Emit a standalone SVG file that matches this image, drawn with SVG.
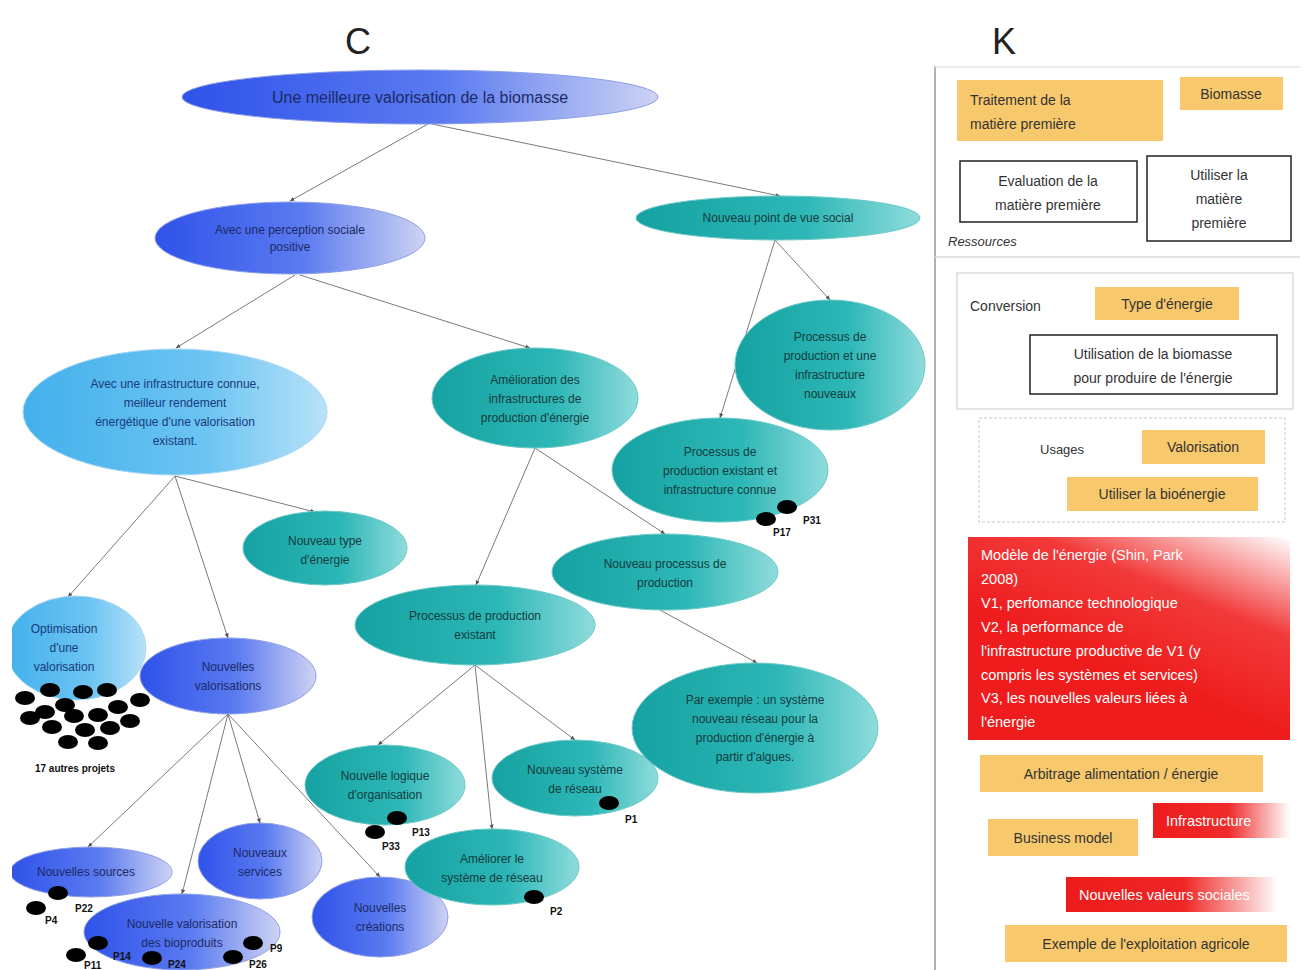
<svg xmlns="http://www.w3.org/2000/svg" width="1304" height="970" viewBox="0 0 1304 970">
<defs>
<linearGradient id="gBlue" x1="0" y1="0" x2="1" y2="0">
<stop offset="0" stop-color="#2f52ea"/><stop offset="0.55" stop-color="#5b7bf0"/><stop offset="1" stop-color="#cdd3f3"/>
</linearGradient>
<linearGradient id="gTeal" x1="0" y1="0" x2="1" y2="0">
<stop offset="0" stop-color="#16a2a2"/><stop offset="0.6" stop-color="#2db7b6"/><stop offset="1" stop-color="#8fdcdc"/>
</linearGradient>
<linearGradient id="gLight" x1="0" y1="0" x2="1" y2="0">
<stop offset="0" stop-color="#43b0ec"/><stop offset="0.6" stop-color="#6cc4f2"/><stop offset="1" stop-color="#b8e2f8"/>
</linearGradient>
<linearGradient id="gRed" x1="0.55" y1="0.7" x2="1" y2="0">
<stop offset="0" stop-color="#ee1c1c"/><stop offset="0.5" stop-color="#f23a3a"/><stop offset="1" stop-color="#ffffff"/>
</linearGradient>
<linearGradient id="gRedH" x1="0" y1="0" x2="1" y2="0">
<stop offset="0" stop-color="#ee1c1c"/><stop offset="0.55" stop-color="#ef2a2a"/><stop offset="1" stop-color="#ffffff"/>
</linearGradient>
<linearGradient id="gRedH2" x1="0" y1="0" x2="1" y2="0">
<stop offset="0" stop-color="#ee1c1c"/><stop offset="0.5" stop-color="#ef2626"/><stop offset="0.9" stop-color="#ffffff"/>
</linearGradient>
<marker id="arr" viewBox="0 0 10 10" refX="9" refY="5" markerWidth="5" markerHeight="5" orient="auto">
<path d="M0,1 L10,5 L0,9 z" fill="#555"/>
</marker>
<clipPath id="leftClip"><rect x="12" y="0" width="1292" height="970"/></clipPath>
</defs>
<style>
.n text{font-family:"Liberation Sans",Arial,sans-serif;font-size:12px;text-anchor:middle}
.b ellipse{fill:url(#gBlue);stroke:#8d9fe8;stroke-width:1}
.t ellipse{fill:url(#gTeal);stroke:#6cc8c8;stroke-width:1}
.l ellipse{fill:url(#gLight);stroke:#a9d8f2;stroke-width:1}
.b text{fill:#1b2a66}
.t text{fill:#123c3e}
.l text{fill:#173a7a}
.c line{stroke:#7a7a7a;stroke-width:1;marker-end:url(#arr)}
.dot{fill:#000}
.pl{font-family:"Liberation Sans",Arial,sans-serif;font-size:10px;font-weight:bold;fill:#111}
.k{font-family:"Liberation Sans",Arial,sans-serif;font-size:14px;fill:#333}
.ob{fill:#f8c96c}
.bx{fill:#fff;stroke:#222;stroke-width:1.5}
.sec{fill:none;stroke:#dcdcdc;stroke-width:1.5}
.wt{font-family:"Liberation Sans",Arial,sans-serif;font-size:14.5px;fill:#fff}
.hd{font-family:"Liberation Sans",Arial,sans-serif;font-size:36px;fill:#222;text-anchor:middle}
</style>
<rect width="1304" height="970" fill="#fff"/>
<text class="hd" x="358" y="54">C</text>
<text class="hd" x="1004" y="54">K</text>

<g id="connectors" class="c">
<line x1="428" y1="124" x2="290" y2="201"/>
<line x1="432" y1="124" x2="780" y2="196"/>
<line x1="295" y1="275" x2="176" y2="348"/>
<line x1="300" y1="275" x2="530" y2="348"/>
<line x1="775" y1="240" x2="830" y2="300"/>
<line x1="775" y1="240" x2="720" y2="418"/>
<line x1="175" y1="476" x2="68" y2="597"/>
<line x1="175" y1="476" x2="228" y2="638"/>
<line x1="175" y1="476" x2="315" y2="512"/>
<line x1="535" y1="448" x2="476" y2="585"/>
<line x1="535" y1="448" x2="665" y2="534"/>
<line x1="660" y1="610" x2="757" y2="663"/>
<line x1="475" y1="665" x2="378" y2="745"/>
<line x1="475" y1="665" x2="492" y2="829"/>
<line x1="475" y1="665" x2="575" y2="740"/>
<line x1="228" y1="714" x2="88" y2="847"/>
<line x1="228" y1="714" x2="182" y2="894"/>
<line x1="228" y1="714" x2="260" y2="823"/>
<line x1="228" y1="714" x2="380" y2="877"/>
</g>

<g id="n-root" class="n b"><ellipse cx="420" cy="97" rx="238" ry="27"/><text x="420" y="103" style="font-size:16px">Une meilleure valorisation de la biomasse</text></g>
<g id="n-perception" class="n b"><ellipse cx="290" cy="238" rx="135" ry="36"/><text x="290" y="234">Avec une perception sociale</text><text x="290" y="251">positive</text></g>
<g id="n-social" class="n t"><ellipse cx="778" cy="218" rx="142" ry="22"/><text x="778" y="222">Nouveau point de vue social</text></g>
<g id="n-infra" class="n l"><ellipse cx="175" cy="412" rx="152" ry="63"/><text x="175" y="388">Avec une infrastructure connue,</text><text x="175" y="407">meilleur rendement</text><text x="175" y="426">énergétique d'une valorisation</text><text x="175" y="445">existant.</text></g>
<g id="n-amelioration" class="n t"><ellipse cx="535" cy="398" rx="103" ry="50"/><text x="535" y="384">Amélioration des</text><text x="535" y="403">infrastructures de</text><text x="535" y="422">production d'énergie</text></g>
<g id="n-procnouveaux" class="n t"><ellipse cx="830" cy="365" rx="95" ry="65"/><text x="830" y="341">Processus de</text><text x="830" y="360">production et une</text><text x="830" y="379">infrastructure</text><text x="830" y="398">nouveaux</text></g>
<g id="n-procconnue" class="n t"><ellipse cx="720" cy="470" rx="108" ry="52"/><text x="720" y="456">Processus de</text><text x="720" y="475">production existant et</text><text x="720" y="494">infrastructure connue</text></g>
<g id="n-type" class="n t"><ellipse cx="325" cy="548" rx="82" ry="37"/><text x="325" y="545">Nouveau type</text><text x="325" y="564">d'énergie</text></g>
<g id="n-nouvproc" class="n t"><ellipse cx="665" cy="572" rx="113" ry="38"/><text x="665" y="568">Nouveau processus de</text><text x="665" y="587">production</text></g>
<g id="n-procexist" class="n t"><ellipse cx="475" cy="625" rx="120" ry="40"/><text x="475" y="620">Processus de production</text><text x="475" y="639">existant</text></g>
<g id="n-optim" class="n l" clip-path="url(#leftClip)"><ellipse cx="76" cy="648" rx="70" ry="52"/><text x="64" y="633">Optimisation</text><text x="64" y="652">d'une</text><text x="64" y="671">valorisation</text></g>
<g id="n-nouvval" class="n b"><ellipse cx="228" cy="676" rx="88" ry="38"/><text x="228" y="671">Nouvelles</text><text x="228" y="690">valorisations</text></g>
<g id="n-sources" class="n b" clip-path="url(#leftClip)"><ellipse cx="91" cy="872" rx="81" ry="25"/><text x="86" y="876">Nouvelles sources</text></g>
<g id="n-services" class="n b"><ellipse cx="260" cy="861" rx="62" ry="38"/><text x="260" y="857">Nouveaux</text><text x="260" y="876">services</text></g>
<g id="n-bioprod" class="n b"><ellipse cx="182" cy="932" rx="98" ry="38"/><text x="182" y="928">Nouvelle valorisation</text><text x="182" y="947">des bioproduits</text></g>
<g id="n-creations" class="n b"><ellipse cx="380" cy="917" rx="68" ry="40"/><text x="380" y="912">Nouvelles</text><text x="380" y="931">créations</text></g>
<g id="n-logique" class="n t"><ellipse cx="385" cy="785" rx="80" ry="40"/><text x="385" y="780">Nouvelle logique</text><text x="385" y="799">d'organisation</text></g>
<g id="n-systeme" class="n t"><ellipse cx="575" cy="778" rx="83" ry="38"/><text x="575" y="774">Nouveau système</text><text x="575" y="793">de réseau</text></g>
<g id="n-ameliorer" class="n t"><ellipse cx="492" cy="867" rx="87" ry="38"/><text x="492" y="863">Améliorer le</text><text x="492" y="882">système de réseau</text></g>
<g id="n-exemple" class="n t"><ellipse cx="755" cy="728" rx="123" ry="65"/><text x="755" y="704">Par exemple : un système</text><text x="755" y="723">nouveau réseau pour la</text><text x="755" y="742">production d'énergie à</text><text x="755" y="761">partir d'algues.</text></g>

<g id="projects">
<ellipse class="dot" cx="787" cy="507" rx="10" ry="7"/><text class="pl" x="803" y="524">P31</text>
<ellipse class="dot" cx="766" cy="519" rx="10" ry="7"/><text class="pl" x="773" y="536">P17</text>
<ellipse class="dot" cx="397" cy="818" rx="10" ry="7"/><text class="pl" x="412" y="836">P13</text>
<ellipse class="dot" cx="375" cy="832" rx="10" ry="7"/><text class="pl" x="382" y="850">P33</text>
<ellipse class="dot" cx="609" cy="803" rx="10" ry="7"/><text class="pl" x="625" y="823">P1</text>
<ellipse class="dot" cx="534" cy="897" rx="10" ry="7"/><text class="pl" x="550" y="915">P2</text>
<ellipse class="dot" cx="58" cy="893" rx="10" ry="7"/><text class="pl" x="75" y="912">P22</text>
<ellipse class="dot" cx="36" cy="908" rx="10" ry="7"/><text class="pl" x="45" y="924">P4</text>
<ellipse class="dot" cx="98" cy="943" rx="10" ry="7"/><text class="pl" x="113" y="960">P14</text>
<ellipse class="dot" cx="76" cy="955" rx="10" ry="7"/><text class="pl" x="84" y="969">P11</text>
<ellipse class="dot" cx="152" cy="958" rx="10" ry="7"/><text class="pl" x="168" y="968">P24</text>
<ellipse class="dot" cx="233" cy="957" rx="10" ry="7"/><text class="pl" x="249" y="968">P26</text>
<ellipse class="dot" cx="253" cy="943" rx="10" ry="7"/><text class="pl" x="270" y="952">P9</text>
<g id="cluster">
<ellipse class="dot" cx="25" cy="698" rx="10" ry="7"/><ellipse class="dot" cx="50" cy="690" rx="10" ry="7"/><ellipse class="dot" cx="83" cy="692" rx="10" ry="7"/><ellipse class="dot" cx="107" cy="690" rx="10" ry="7"/><ellipse class="dot" cx="140" cy="700" rx="10" ry="7"/>
<ellipse class="dot" cx="65" cy="705" rx="10" ry="7"/><ellipse class="dot" cx="45" cy="712" rx="10" ry="7"/><ellipse class="dot" cx="74" cy="716" rx="10" ry="7"/><ellipse class="dot" cx="98" cy="715" rx="10" ry="7"/><ellipse class="dot" cx="118" cy="707" rx="10" ry="7"/>
<ellipse class="dot" cx="52" cy="727" rx="10" ry="7"/><ellipse class="dot" cx="85" cy="730" rx="10" ry="7"/><ellipse class="dot" cx="110" cy="728" rx="10" ry="7"/><ellipse class="dot" cx="130" cy="721" rx="10" ry="7"/>
<ellipse class="dot" cx="68" cy="742" rx="10" ry="7"/><ellipse class="dot" cx="98" cy="743" rx="10" ry="7"/><ellipse class="dot" cx="30" cy="718" rx="10" ry="7"/>
</g>
<text class="pl" x="75" y="772" text-anchor="middle">17 autres projets</text>
</g>

<g id="k-panel">
<line x1="935" y1="66" x2="935" y2="970" stroke="#999" stroke-width="1.5"/>
<line x1="935" y1="67" x2="1300" y2="67" stroke="#e6e6e6" stroke-width="1.5"/>
<line x1="935" y1="257" x2="1300" y2="257" stroke="#d8d8d8" stroke-width="1.5"/>
<g id="k-traitement"><rect class="ob" x="957" y="80" width="206" height="61"/><text class="k" x="970" y="105">Traitement de la</text><text class="k" x="970" y="129">matière première</text></g>
<g id="k-biomasse"><rect class="ob" x="1180" y="77" width="103" height="33"/><text class="k" x="1231" y="99" text-anchor="middle">Biomasse</text></g>
<g id="k-evaluation"><rect class="bx" x="960" y="161" width="177" height="61"/><text class="k" x="1048" y="186" text-anchor="middle">Evaluation de la</text><text class="k" x="1048" y="210" text-anchor="middle">matière première</text></g>
<g id="k-utiliser-mp"><rect class="bx" x="1147" y="156" width="144" height="85"/><text class="k" x="1219" y="180" text-anchor="middle">Utiliser la</text><text class="k" x="1219" y="204" text-anchor="middle">matière</text><text class="k" x="1219" y="228" text-anchor="middle">première</text></g>
<text class="k" x="948" y="246" style="font-size:13px;font-style:italic">Ressources</text>

<g id="k-conversion"><rect class="sec" x="957" y="273" width="336" height="136"/>
<text class="k" x="970" y="311">Conversion</text>
<rect class="ob" x="1095" y="287" width="144" height="33"/><text class="k" x="1167" y="309" text-anchor="middle">Type d'énergie</text>
<rect class="bx" x="1030" y="335" width="247" height="59"/><text class="k" x="1153" y="359" text-anchor="middle">Utilisation de la biomasse</text><text class="k" x="1153" y="383" text-anchor="middle">pour produire de l'énergie</text></g>

<g id="k-usages"><rect class="sec" x="979" y="418" width="306" height="104" stroke-dasharray="3 2"/>
<text class="k" x="1040" y="454" style="font-size:13px">Usages</text>
<rect class="ob" x="1142" y="430" width="123" height="34"/><text class="k" x="1203" y="452" text-anchor="middle">Valorisation</text>
<rect class="ob" x="1067" y="477" width="191" height="34"/><text class="k" x="1162" y="499" text-anchor="middle">Utiliser la bioénergie</text></g>

<g id="k-modele"><rect x="968" y="537" width="322" height="203" fill="url(#gRed)"/>
<text class="wt" x="981" y="560">Modèle de l'énergie (Shin, Park</text>
<text class="wt" x="981" y="584">2008)</text>
<text class="wt" x="981" y="608">V1, perfomance technologique</text>
<text class="wt" x="981" y="632">V2, la performance de</text>
<text class="wt" x="981" y="656">l'infrastructure productive de V1 (y</text>
<text class="wt" x="981" y="680">compris les systèmes et services)</text>
<text class="wt" x="981" y="703"> V3, les nouvelles valeurs liées à</text>
<text class="wt" x="981" y="727">l'énergie</text></g>

<g id="k-arbitrage"><rect class="ob" x="980" y="755" width="283" height="37"/><text class="k" x="1121" y="779" text-anchor="middle">Arbitrage alimentation / énergie</text></g>
<g id="k-infra"><rect x="1153" y="803" width="137" height="35" fill="url(#gRedH)"/><text class="wt" x="1166" y="826">Infrastructure</text></g>
<g id="k-business"><rect class="ob" x="988" y="819" width="150" height="37"/><text class="k" x="1063" y="843" text-anchor="middle">Business model</text></g>
<g id="k-valeurs"><rect x="1066" y="877" width="236" height="35" fill="url(#gRedH2)"/><text class="wt" x="1079" y="900">Nouvelles valeurs sociales</text></g>
<g id="k-exemple"><rect class="ob" x="1005" y="925" width="282" height="37"/><text class="k" x="1146" y="949" text-anchor="middle">Exemple de l'exploitation agricole</text></g>
</g>
</svg>
